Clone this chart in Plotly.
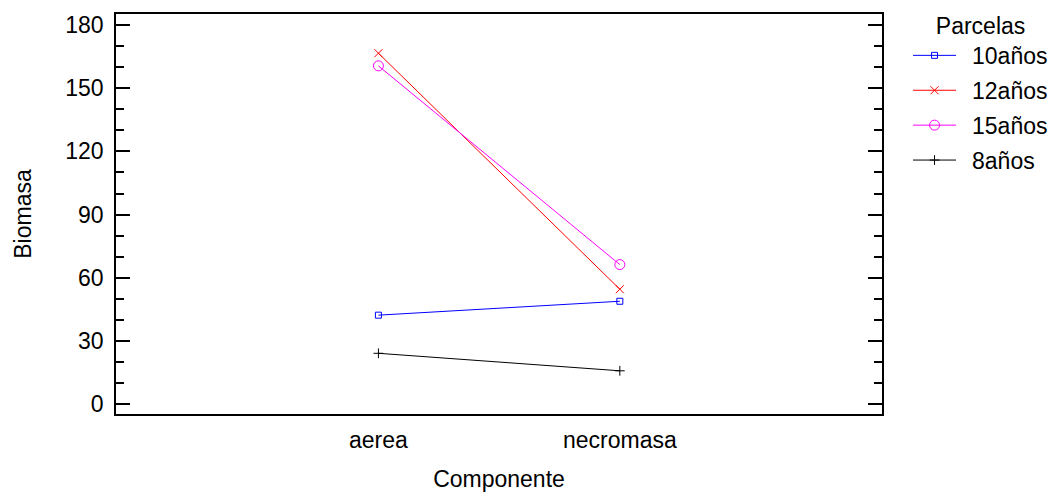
import plotly.graph_objects as go

componentes = ["aerea", "necromasa"]
x_pos = [1, 2]
series_names = ["10años", "12años", "15años", "8años"]
vals_10 = [42.3, 48.9]
vals_12 = [166.6, 54.6]
vals_15 = [160.6, 66.3]
vals_8 = [24.2, 15.9]
y_ticks = [0, 30, 60, 90, 120, 150, 180]

colors = ["#0000FF", "#FF0000", "#FF00FF", "#000000"]
symbols = ["square-open", "x-thin-open", "circle-open", "cross-thin-open"]
sizes = [6, 8, 10, 7]

FONT = "Liberation Sans, Arial, sans-serif"
FS = 23

fig = go.Figure()
for name, vals, c, s, sz in zip(series_names, [vals_10, vals_12, vals_15, vals_8], colors, symbols, sizes):
    fig.add_trace(go.Scatter(
        x=x_pos, y=vals, name="\u00a0\u2009" + name, legendgroup=name,
        mode="lines+markers",
        line=dict(color=c, width=1),
        marker=dict(symbol=s, size=sz, color=c, line=dict(color=c, width=1)),
    ))

fig.update_layout(
    width=1049, height=492,
    margin=dict(l=116, r=167, t=14, b=78, autoexpand=False),
    paper_bgcolor="white", plot_bgcolor="white",
    font=dict(family=FONT, size=FS, color="#000000"),
    showlegend=True,
    legend=dict(
        x=1.034, xanchor="left", y=1.025, yanchor="top",
        title=dict(text="Parcelas", side="top center", font=dict(size=FS)),
        font=dict(size=FS), itemwidth=43, tracegroupgap=2,
        bgcolor="rgba(0,0,0,0)",
    ),
)
fig.update_xaxes(
    range=[-0.087, 3.086], tickvals=x_pos, ticktext=componentes,
    showline=True, linecolor="#000000", linewidth=1.5, mirror=True,
    ticks="", showgrid=False, zeroline=False, automargin=False,
    ticklabelstandoff=5,
    title=dict(text="Componente", standoff=22, font=dict(size=FS)),
)
fig.update_yaxes(
    range=[-4.6, 185.2], tickvals=y_ticks,
    showline=True, linecolor="#000000", linewidth=1.5, mirror="ticks",
    ticks="inside", ticklen=14, tickwidth=1.5, tickcolor="#000000",
    minor=dict(ticks="inside", ticklen=8, dtick=10, tick0=0, tickwidth=1.5, tickcolor="#000000", showgrid=False),
    showgrid=False, zeroline=False, automargin=False,
    ticklabelstandoff=6,
    title=dict(text="Biomasa", standoff=27, font=dict(size=FS)),
)

fig.write_html("out.html")
